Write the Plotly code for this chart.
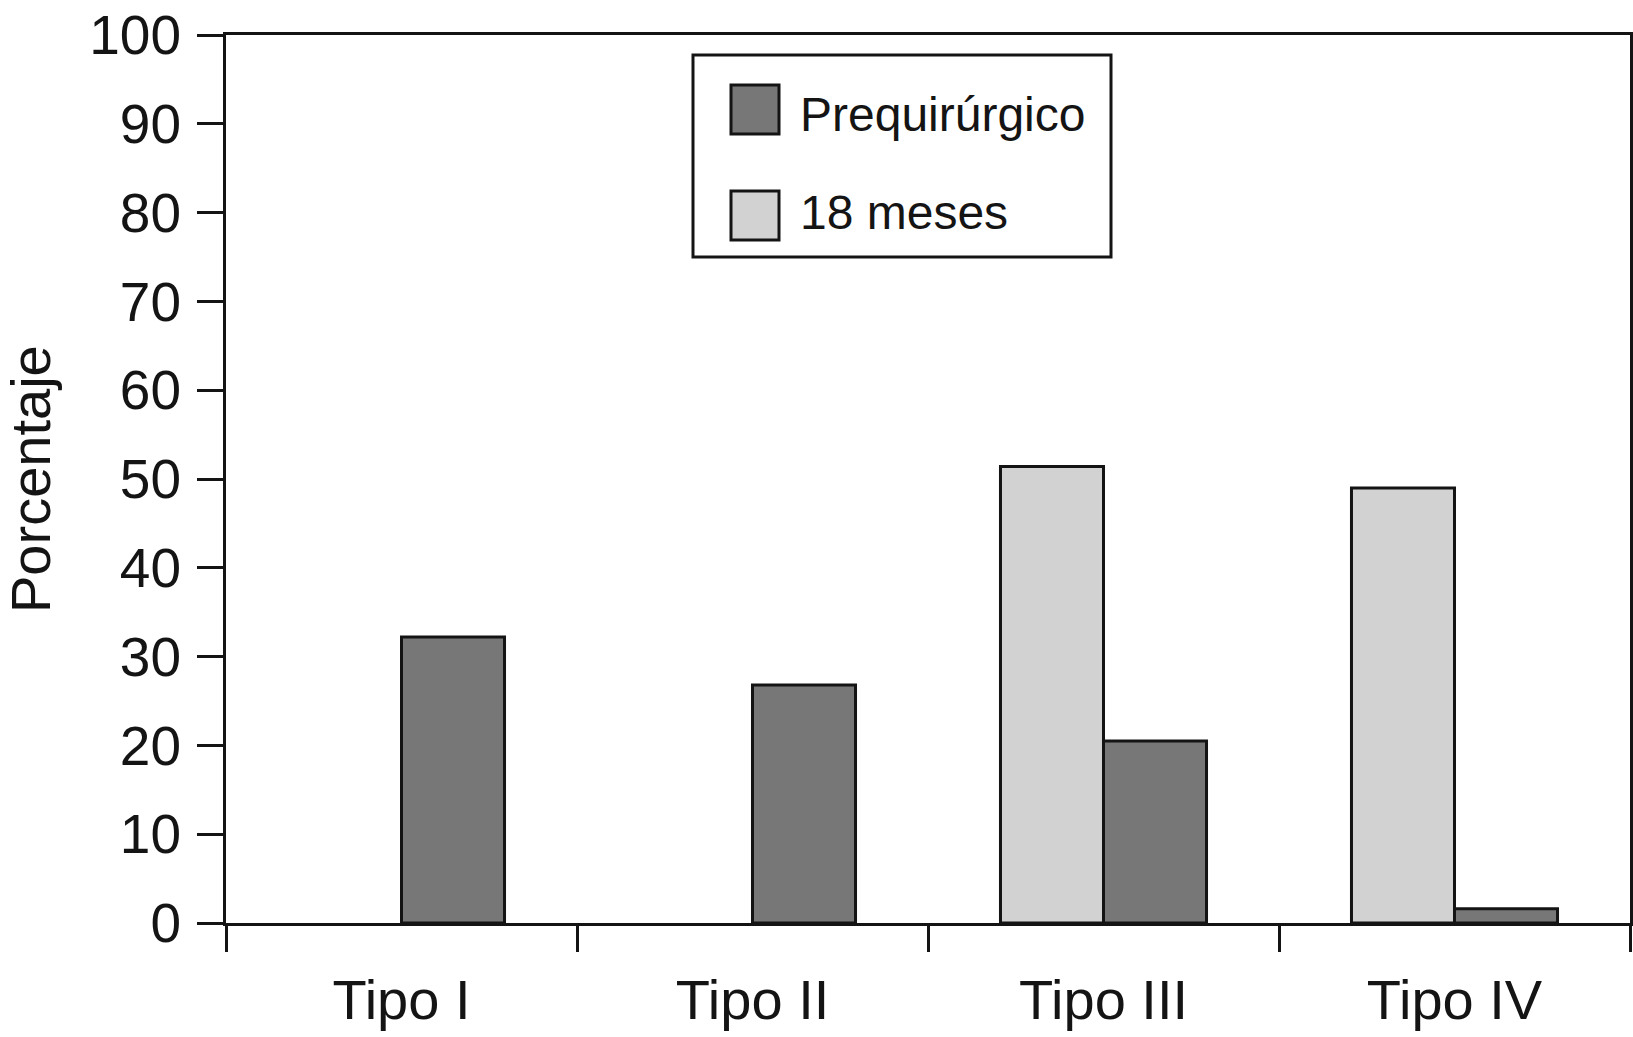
import plotly.graph_objects as go

categories = ["Tipo I", "Tipo II", "Tipo III", "Tipo IV"]
meses18 = [0, 0, 51.4, 49.0]
prequirurgico = [32.2, 26.8, 20.5, 1.6]
series_names = ["Prequirúrgico", "18 meses"]
y_ticks = [0, 10, 20, 30, 40, 50, 60, 70, 80, 90, 100]

DARK = "#777777"
LIGHT = "#d2d2d2"
INK = "#141414"
FONT = "Liberation Sans, Arial, sans-serif"


def outline(vals):
    return [0 if v == 0 else 3 for v in vals]


fig = go.Figure()
fig.add_trace(go.Bar(x=categories, y=meses18, name=series_names[1],
                     marker=dict(color=LIGHT, line=dict(color=INK, width=outline(meses18)))))
fig.add_trace(go.Bar(x=categories, y=prequirurgico, name=series_names[0],
                     marker=dict(color=DARK, line=dict(color=INK, width=outline(prequirurgico)))))

W, H = 1633, 1037
L, R, T, B = 226, 3, 35, 114
pw, ph = W - L - R, H - T - B


def px(x):
    return (x - L) / pw


def py(y):
    return (H - B - y) / ph


fig.update_layout(
    width=W, height=H,
    margin=dict(l=L, r=R, t=T, b=B, autoexpand=False),
    paper_bgcolor="white", plot_bgcolor="white",
    barmode="group", bargap=0.413, bargroupgap=0,
    showlegend=False,
    font=dict(family=FONT, color=INK),
)
fig.update_xaxes(
    type="category", tickson="boundaries", ticks="outside", ticklen=26,
    tickwidth=3, tickcolor=INK, showline=True, linewidth=3, linecolor=INK,
    mirror=True, showgrid=False, tickfont=dict(size=56, color=INK),
    ticklabelstandoff=26, automargin=False,
)
fig.update_yaxes(
    range=[0, 100], tickvals=y_ticks, ticks="outside", ticklen=26,
    tickwidth=3, tickcolor=INK, showline=True, linewidth=3, linecolor=INK,
    mirror=True, showgrid=False, zeroline=False,
    tickfont=dict(size=55, color=INK), ticklabelstandoff=5, automargin=False,
)

# y-axis title
fig.add_annotation(text="Porcentaje", textangle=-90, xref="paper", yref="paper",
                   x=px(30), y=py(479), showarrow=False,
                   font=dict(size=56, color=INK, family=FONT),
                   xanchor="center", yanchor="middle")

# custom legend
fig.add_shape(type="rect", xref="paper", yref="paper",
              x0=px(693), x1=px(1111), y0=py(257), y1=py(55),
              line=dict(color=INK, width=3), fillcolor="white", layer="above")
legend_items = [(series_names[0], DARK, 85, 134, 114), (series_names[1], LIGHT, 191, 240, 212)]
for name, col, top, bot, cy in legend_items:
    fig.add_shape(type="rect", xref="paper", yref="paper",
                  x0=px(731), x1=px(779), y0=py(bot), y1=py(top),
                  line=dict(color=INK, width=3), fillcolor=col, layer="above")
    fig.add_annotation(text=name, xref="paper", yref="paper",
                       x=px(798), y=py(cy), showarrow=False,
                       xanchor="left", yanchor="middle",
                       font=dict(size=48, color=INK, family=FONT))

fig.write_html(
    "out.html",
    config={"responsive": False, "displayModeBar": False},
    post_script="document.body.style.margin='0';document.body.style.overflow='hidden';",
)
